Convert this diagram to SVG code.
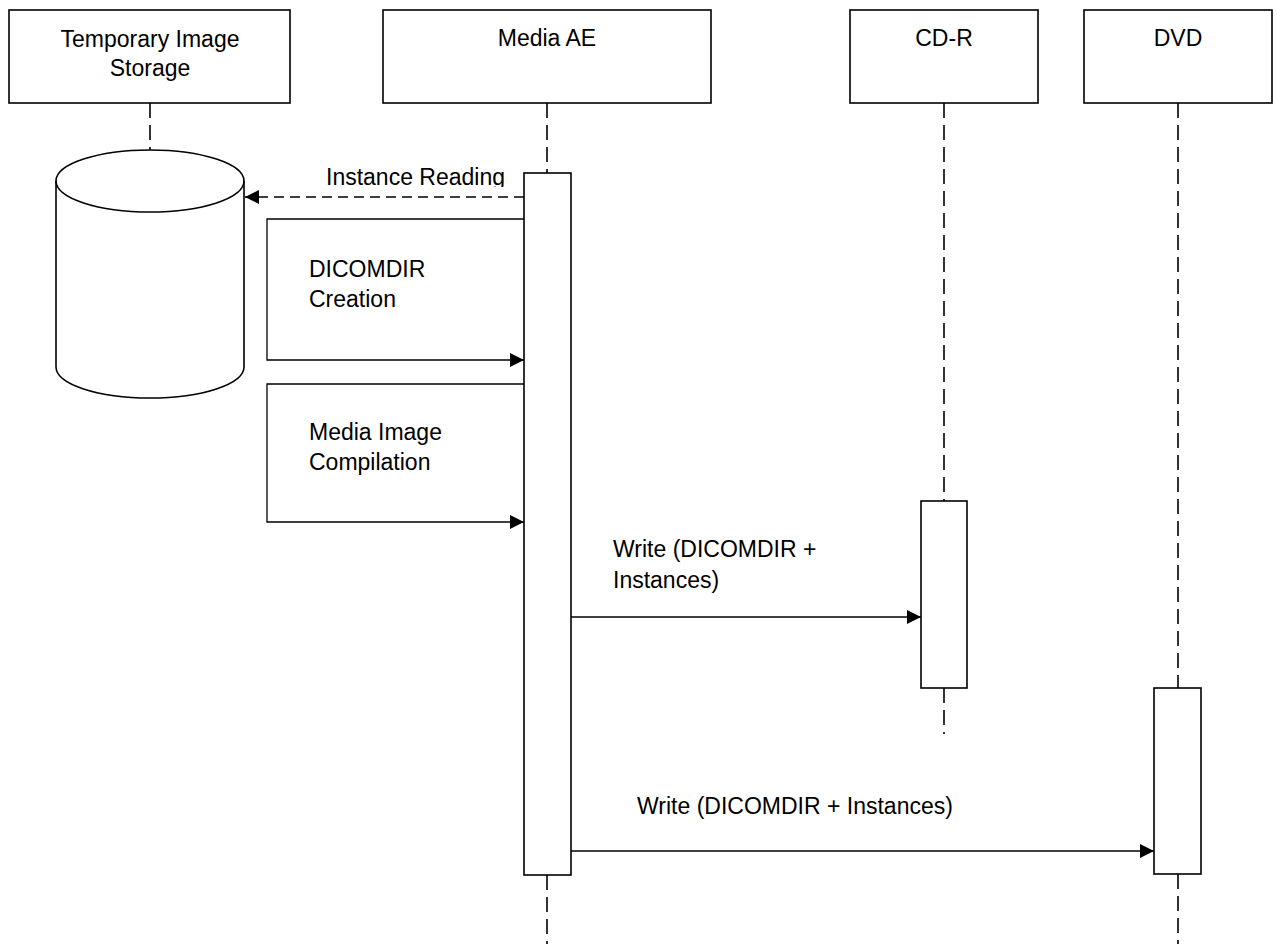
<svg xmlns="http://www.w3.org/2000/svg" width="1277" height="944" viewBox="0 0 1277 944">
<style>
.box{fill:#fff;stroke:#000;stroke-width:1.6}
.life{fill:none;stroke:#000;stroke-width:1.6;stroke-dasharray:15 7}
.msg{fill:none;stroke:#000;stroke-width:1.3}
.dmsg{fill:none;stroke:#000;stroke-width:1.3;stroke-dasharray:10 6}
text{font-family:"Liberation Sans",Arial,sans-serif;font-size:23px;fill:#000}
.c{text-anchor:middle}
</style>
<defs>
<marker id="ah" viewBox="0 0 10 10" refX="10" refY="5" markerWidth="14" markerHeight="14" markerUnits="userSpaceOnUse" orient="auto">
<path d="M0,0 L10,5 L0,10 Z" fill="#000"/>
</marker>
<clipPath id="clipIR"><rect x="300" y="150" width="220" height="37"/></clipPath>
</defs>
<rect width="1277" height="944" fill="#fff"/>
<g id="lifelines">
<line class="life" x1="150" y1="103" x2="150" y2="150"/>
<line class="life" x1="547" y1="103" x2="547" y2="173"/>
<line class="life" x1="547" y1="875" x2="547" y2="944"/>
<line class="life" x1="944" y1="103" x2="944" y2="501"/>
<line class="life" x1="944" y1="688" x2="944" y2="734"/>
<line class="life" x1="1178" y1="103" x2="1178" y2="688"/>
<line class="life" x1="1178" y1="874" x2="1178" y2="944"/>
</g>
<g id="node-temp-storage">
<rect class="box" x="9" y="10" width="281" height="93"/>
<text class="c" x="150" y="47">Temporary Image</text>
<text class="c" x="150" y="76">Storage</text>
</g>
<g id="node-media-ae">
<rect class="box" x="383" y="10" width="328" height="93"/>
<text class="c" x="547" y="46">Media AE</text>
</g>
<g id="node-cdr">
<rect class="box" x="850" y="10" width="188" height="93"/>
<text class="c" x="944" y="46">CD-R</text>
</g>
<g id="node-dvd">
<rect class="box" x="1084" y="10" width="188" height="93"/>
<text class="c" x="1178" y="46">DVD</text>
</g>
<g id="node-database">
<path class="box" d="M56,181 L56,367 A94,31 0 0 0 244,367 L244,181 A94,31 0 0 0 56,181 Z"/>
<path class="box" style="fill:none" d="M56,181 A94,31 0 0 0 244,181"/>
</g>
<g id="node-media-ae-activation">
<rect class="box" x="524" y="173" width="47" height="702"/>
</g>
<g id="node-cdr-activation">
<rect class="box" x="921" y="501" width="46" height="187"/>
</g>
<g id="node-dvd-activation">
<rect class="box" x="1154" y="688" width="47" height="186"/>
</g>
<g id="connectors">
<line class="dmsg" x1="524" y1="197" x2="245" y2="197" marker-end="url(#ah)"/>
<polyline class="msg" points="524,219 267,219 267,360 524,360" marker-end="url(#ah)"/>
<polyline class="msg" points="524,384 267,384 267,522 524,522" marker-end="url(#ah)"/>
<line class="msg" x1="571" y1="617" x2="921" y2="617" marker-end="url(#ah)"/>
<line class="msg" x1="571" y1="851" x2="1154" y2="851" marker-end="url(#ah)"/>
</g>
<g id="labels">
<text x="326" y="185" clip-path="url(#clipIR)">Instance Reading</text>
<text x="309" y="277">DICOMDIR</text>
<text x="309" y="307">Creation</text>
<text x="309" y="440">Media Image</text>
<text x="309" y="470">Compilation</text>
<text x="613" y="557">Write (DICOMDIR +</text>
<text x="613" y="588">Instances)</text>
<text x="637" y="814">Write (DICOMDIR + Instances)</text>
</g>
</svg>
